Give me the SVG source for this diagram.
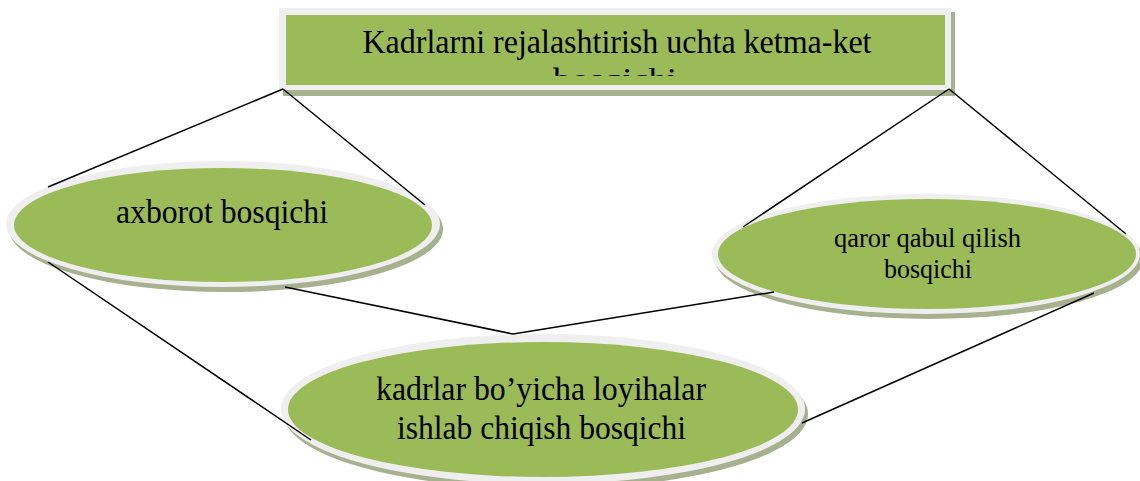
<svg xmlns="http://www.w3.org/2000/svg" width="1140" height="481" viewBox="0 0 1140 481">
<defs>
<style>
.shadow{fill:#a7b190}
.ring{fill:#efefef}
.green{fill:#9bbb59}
.t{font-family:"Liberation Serif","Times New Roman",serif;fill:#000;text-anchor:middle}
.conn line{stroke:#000;stroke-width:1.5;fill:none}
</style>
<clipPath id="titleClip"><rect x="286" y="15" width="659" height="61"/></clipPath>
</defs>
<rect width="1140" height="481" fill="#fff"/>
<g id="title">
<rect class="shadow" x="283" y="12" width="672" height="84"/>
<rect class="ring" x="279" y="8" width="672" height="82"/>
<rect class="green" x="286" y="15" width="659" height="70"/>
<g clip-path="url(#titleClip)">
<text class="t" x="617" y="53" font-size="33" textLength="509" lengthAdjust="spacingAndGlyphs">Kadrlarni rejalashtirish uchta ketma-ket</text>
<text class="t" x="615" y="90" font-size="32" textLength="124" lengthAdjust="spacingAndGlyphs">bosqichi</text>
</g>
</g>
<g id="axborot">
<ellipse class="shadow" cx="226" cy="229" rx="217" ry="63"/>
<ellipse class="ring" cx="223" cy="224" rx="217" ry="63"/>
<ellipse class="green" cx="223" cy="225" rx="209" ry="57"/>
<text class="t" x="222" y="223" font-size="33" textLength="212" lengthAdjust="spacingAndGlyphs">axborot bosqichi</text>
</g>
<g id="qaror">
<ellipse class="shadow" cx="929" cy="259" rx="214" ry="60"/>
<ellipse class="ring" cx="926" cy="254" rx="214" ry="60"/>
<ellipse class="green" cx="927" cy="254" rx="209" ry="55"/>
<text class="t" x="927.5" y="247" font-size="28" textLength="187" lengthAdjust="spacingAndGlyphs">qaror qabul qilish</text>
<text class="t" x="928" y="278" font-size="28" textLength="88" lengthAdjust="spacingAndGlyphs">bosqichi</text>
</g>
<g id="kadrlar">
<ellipse class="shadow" cx="546" cy="414" rx="262" ry="75"/>
<ellipse class="ring" cx="543" cy="409" rx="262" ry="75"/>
<ellipse class="green" cx="543" cy="409.5" rx="255" ry="67.5"/>
<text class="t" x="541" y="400" font-size="34" textLength="330" lengthAdjust="spacingAndGlyphs">kadrlar bo’yicha loyihalar</text>
<text class="t" x="541.5" y="439" font-size="34" textLength="289" lengthAdjust="spacingAndGlyphs">ishlab chiqish bosqichi</text>
</g>
<g id="connectors" class="conn">
<line x1="48" y1="187" x2="283" y2="89"/>
<line x1="283" y1="89" x2="425" y2="205"/>
<line x1="743" y1="227" x2="949" y2="89"/>
<line x1="949" y1="89" x2="1126" y2="234"/>
<line x1="285" y1="287" x2="513" y2="334"/>
<line x1="513" y1="334" x2="774" y2="292"/>
<line x1="48" y1="262" x2="311" y2="440"/>
<line x1="802" y1="423" x2="1094" y2="293"/>
</g>
</svg>
